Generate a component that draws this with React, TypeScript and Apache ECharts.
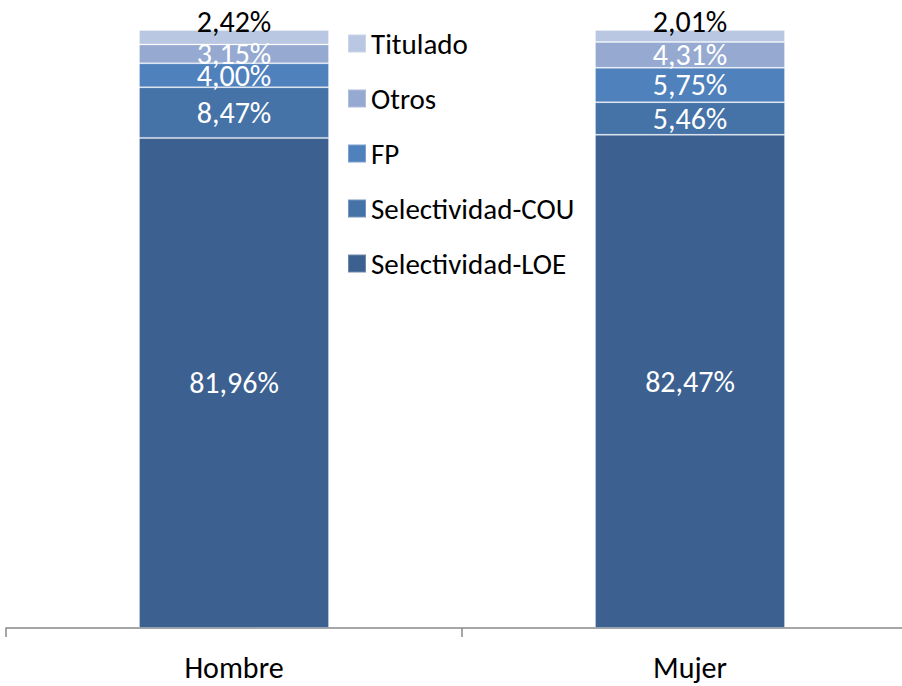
import React, { useEffect, useRef } from "react";
import * as echarts from "echarts";

const categories = ["Hombre", "Mujer"];
const seriesNames = ["Selectividad-LOE", "Selectividad-COU", "FP", "Otros", "Titulado"];
const loe = [81.96, 82.47];
const cou = [8.47, 5.46];
const fp = [4.0, 5.75];
const otros = [3.15, 4.31];
const titulado = [2.42, 2.01];
const legendOrder = ["Titulado", "Otros", "FP", "Selectividad-COU", "Selectividad-LOE"];
const colors = ["#3c6090", "#4572a7", "#4f81bd", "#95a9d1", "#b9c7e2"];

const FONT = "Carlito, Calibri, Lato, sans-serif";

export default function App() {
  const ref = useRef<HTMLDivElement>(null);
  useEffect(() => {
    if (!ref.current) return;
    const chart = echarts.init(ref.current, undefined, { renderer: "svg" });
    const values = [loe, cou, fp, otros, titulado];
    const fmt = (p: any) => p.value.toFixed(2).replace(".", ",") + "%";
    chart.setOption({
      animation: false,
      grid: { left: 6, right: 0, top: 30, bottom: 58 },
      legend: {
        orient: "vertical",
        left: 347,
        top: 29,
        padding: 0,
        icon: "rect",
        itemWidth: 18,
        itemHeight: 18,
        itemGap: 26,
        data: legendOrder,
        textStyle: { fontFamily: FONT, fontSize: 29, lineHeight: 29, color: "#000" },
      },
      xAxis: {
        type: "category",
        data: categories,
        axisLine: { lineStyle: { color: "#888", width: 1.5 } },
        axisTick: { show: true, length: 9, lineStyle: { color: "#888", width: 1.5 } },
        axisLabel: { fontFamily: FONT, fontSize: 30, color: "#000", margin: 24 },
      },
      yAxis: { type: "value", min: 0, max: 100, show: false },
      series: seriesNames.map((name, i) => ({
        name,
        type: "bar",
        stack: "total",
        barWidth: 190,
        data: values[i],
        itemStyle: { color: colors[i], borderColor: "rgba(255,255,255,0.25)", borderWidth: 1 },
        label: {
          show: true,
          position: i === 4 ? "top" : "inside",
          distance: i === 4 ? -6 : 5,
          formatter: fmt,
          fontFamily: FONT,
          fontSize: 30,
          color: i === 4 ? "#000" : "#fff",
        },
      })),
    });
    return () => chart.dispose();
  }, []);
  return (
    <div style={{ position: "fixed", left: 0, top: 0, width: 902, height: 686, overflow: "hidden", background: "#fff" }}>
      <div ref={ref} style={{ width: 918, height: 686 }} />
    </div>
  );
}
